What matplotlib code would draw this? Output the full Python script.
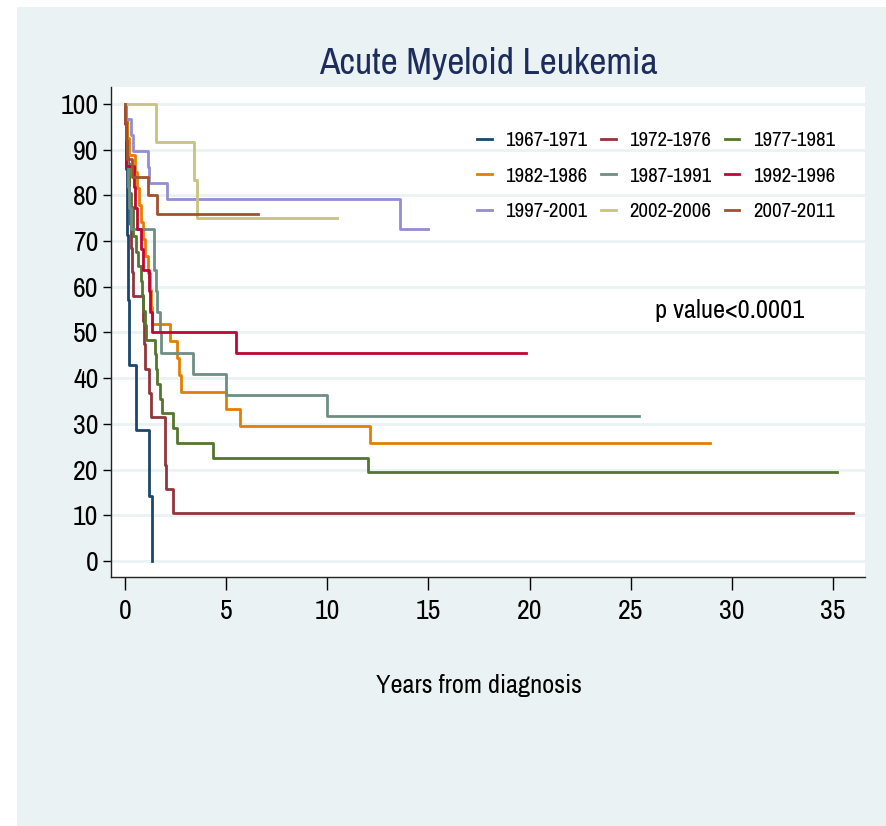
import matplotlib
matplotlib.use("Agg")
import matplotlib.pyplot as plt
from matplotlib.patches import Rectangle

plt.rcParams['font.family'] = ['Archivo Narrow', 'Roboto Condensed', 'Liberation Sans', 'DejaVu Sans']

# Kaplan-Meier step data (time in years, survival %)
groups = ['1967-1971', '1972-1976', '1977-1981', '1982-1986', '1987-1991',
          '1992-1996', '1997-2001', '2002-2006', '2007-2011']
colors = ['#1a476f', '#90353b', '#55752f', '#e37e00', '#6e8e84',
          '#c10534', '#938dd2', '#cac27e', '#a0522d']

t_6771 = [0, 0.05, 0.1, 0.15, 0.2, 0.55, 1.2, 1.35]
s_6771 = [100, 85.7, 71.4, 57.1, 42.9, 28.6, 14.3, 0]

t_7276 = [0, 0.05, 0.1, 0.15, 0.2, 0.25, 0.3, 0.35, 0.4, 0.9, 0.95, 1.0, 1.2, 1.3,
          1.98, 2.0, 2.02, 2.35, 36.0]
s_7276 = [100, 94.7, 89.5, 84.2, 78.9, 73.7, 68.4, 63.2, 57.9, 52.6, 47.4, 42.1, 36.8,
          31.6, 26.3, 21.1, 15.8, 10.5, 10.5]

t_7781 = [0, 0.05, 0.08, 0.1, 0.15, 0.18, 0.22, 0.3, 0.38, 0.42, 0.55, 0.65, 0.8, 0.85,
          0.9, 1.0, 1.02, 1.48, 1.52, 1.6, 1.75, 1.82, 2.39, 2.59, 4.33, 12.0, 35.2]
s_7781 = [100, 96.8, 93.5, 90.3, 87.1, 83.9, 80.6, 77.4, 74.2, 71.0, 67.7, 64.5, 61.3,
          58.1, 54.8, 51.6, 48.4, 45.2, 41.9, 38.7, 35.5, 32.3, 29.0, 25.8, 22.6, 19.4, 19.4]

t_8286 = [0, 0.05, 0.1, 0.2, 0.5, 0.6, 0.7, 0.8, 0.9, 1.0, 1.15, 1.25, 1.3, 1.35, 2.22,
          2.57, 2.67, 2.77, 4.97, 5.7, 12.1, 28.9]
s_8286 = [100, 96.3, 92.6, 88.9, 85.2, 81.5, 77.8, 74.1, 70.4, 66.7, 63.0, 59.3, 55.6,
          51.9, 48.1, 44.4, 40.7, 37.0, 33.3, 29.6, 25.9, 25.9]

t_8791 = [0, 0.03, 0.06, 0.1, 0.15, 0.2, 0.3, 1.43, 1.46, 1.53, 1.56, 1.73, 1.78, 3.38,
          5.0, 10.0, 25.4]
s_8791 = [100, 95.5, 90.9, 86.4, 81.8, 77.3, 72.7, 68.2, 63.6, 59.1, 54.5, 50.0, 45.5,
          40.9, 36.4, 31.8, 31.8]

t_9296 = [0, 0.02, 0.04, 0.06, 0.45, 0.5, 0.6, 0.8, 0.9, 1.2, 1.25, 1.32, 5.49, 19.8]
s_9296 = [100, 95.5, 90.9, 86.4, 81.8, 77.3, 72.7, 68.2, 63.6, 59.1, 54.5, 50.0, 45.5, 45.5]

t_9701 = [0, 0.05, 0.3, 0.4, 1.12, 1.2, 2.1, 13.6, 15.0]
s_9701 = [100, 96.6, 93.1, 89.7, 86.2, 82.8, 79.3, 72.7, 72.7]

t_0206 = [0, 1.53, 3.41, 3.58, 10.5]
s_0206 = [100, 91.7, 83.3, 75.0, 75.0]

t_0711 = [0, 0.02, 0.05, 0.1, 0.35, 1.12, 1.57, 6.56]
s_0711 = [100, 96, 92, 88, 84, 80, 76, 76]

times = [t_6771, t_7276, t_7781, t_8286, t_8791, t_9296, t_9701, t_0206, t_0711]
surv = [s_6771, s_7276, s_7781, s_8286, s_8791, s_9296, s_9701, s_0206, s_0711]

xticks = [0, 5, 10, 15, 20, 25, 30, 35]
yticks = [0, 10, 20, 30, 40, 50, 60, 70, 80, 90, 100]

W, H = 886, 826
bg = '#eaf2f3'
fig = plt.figure(figsize=(W / 100, H / 100), dpi=100, facecolor='white')
fig.patches.append(Rectangle((17 / W, 0), 1 - 17 / W, 1 - 7 / H, transform=fig.transFigure,
                             facecolor=bg, edgecolor='none', zorder=-10))

ax = fig.add_axes([111 / W, 1 - 577 / H, (865 - 111) / W, (577 - 87) / H])
ax.set_facecolor('white')

lines = []
for i in range(len(groups)):
    ln, = ax.step(times[i], surv[i], where='post', color=colors[i], lw=2.0, label=groups[i])
    lines.append(ln)

ax.set_xlim(-0.69, 36.58)
ax.set_ylim(-3.5, 103.7)
ax.set_xticks(xticks)
ax.set_yticks(yticks)
ax.grid(axis='y', color=bg, lw=2, zorder=0)
ax.set_axisbelow(True)
for s in ['top', 'right']:
    ax.spines[s].set_visible(False)
for s in ['left', 'bottom']:
    ax.spines[s].set_color('#222222')
    ax.spines[s].set_linewidth(1.0)
ax.tick_params(axis='y', length=6, width=1, pad=3, labelsize=20)
ax.tick_params(axis='x', length=9, width=1, pad=7, labelsize=20)

ax.text(26.2, 54.7, 'p value<0.0001', fontsize=19, va='center', ha='left')

# legend is filled column by column, so reorder to get row-major order
order = [0, 3, 6, 1, 4, 7, 2, 5, 8]
leg = ax.legend([lines[k] for k in order], [groups[k] for k in order],
                ncol=3, loc='upper left', bbox_to_anchor=(477 / W, 1 - 131 / H),
                bbox_transform=fig.transFigure, frameon=False, fontsize=15,
                handlelength=0.7, handletextpad=0.65, columnspacing=0.65,
                labelspacing=0.8, borderpad=0, borderaxespad=0)

fig.text(488.5 / W, 1 - 74 / H, 'Acute Myeloid Leukemia', fontsize=27, color='#1c2c5c',
         ha='center', va='baseline')
fig.text(478.5 / W, 1 - 693 / H, 'Years from diagnosis', fontsize=19,
         ha='center', va='baseline')

fig.savefig('out.png', dpi=100, facecolor='white')
